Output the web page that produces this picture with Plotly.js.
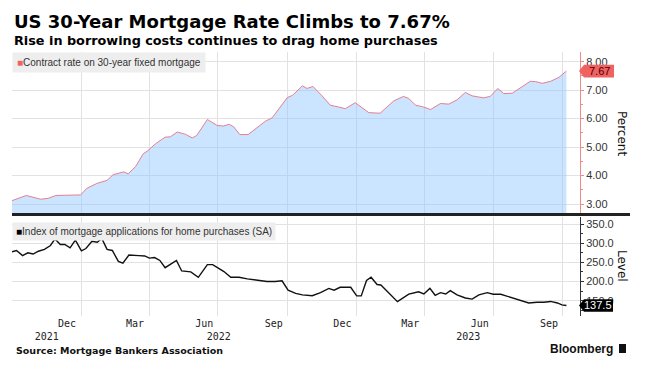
<!DOCTYPE html>
<html><head><meta charset="utf-8">
<script src="https://cdn.plot.ly/plotly-3.0.1.min.js"></script>
<style>html,body{margin:0;padding:0;background:#fff}</style>
</head><body><div id="chart" style="width:649px;height:369px"></div>
<script>
// ---- data ----
const rateDates = ['2021-10-01','2021-10-20','2021-11-08','2021-11-18','2021-11-28','2021-12-13','2021-12-31','2022-01-08','2022-01-22','2022-02-04','2022-02-12','2022-02-26','2022-03-04','2022-03-14','2022-03-24','2022-03-29','2022-04-09','2022-04-22','2022-04-29','2022-05-08','2022-05-19','2022-05-28','2022-06-03','2022-06-17','2022-06-30','2022-07-08','2022-07-16','2022-07-22','2022-07-30','2022-08-10','2022-08-22','2022-09-02','2022-09-11','2022-09-22','2022-10-01','2022-10-08','2022-10-21','2022-10-27','2022-11-04','2022-11-16','2022-11-27','2022-12-06','2022-12-17','2022-12-30','2023-01-17','2023-02-01','2023-02-19','2023-03-04','2023-03-11','2023-03-20','2023-03-29','2023-04-09','2023-04-22','2023-05-03','2023-05-14','2023-05-25','2023-06-03','2023-06-18','2023-06-27','2023-07-07','2023-07-15','2023-07-26','2023-08-06','2023-08-19','2023-08-26','2023-09-04','2023-09-15','2023-09-26','2023-10-06'];
const rateValues = [3.12,3.30,3.17,3.20,3.30,3.30,3.32,3.55,3.73,3.83,4.03,4.13,4.06,4.32,4.77,4.85,5.11,5.35,5.36,5.53,5.45,5.32,5.41,5.97,5.76,5.74,5.80,5.71,5.44,5.44,5.70,5.91,6.03,6.42,6.74,6.82,7.15,7.06,7.13,6.80,6.47,6.42,6.35,6.56,6.21,6.19,6.62,6.78,6.71,6.47,6.42,6.32,6.53,6.51,6.66,6.92,6.80,6.73,6.78,7.06,6.88,6.89,7.09,7.31,7.30,7.24,7.31,7.45,7.67];

const appDates = ['2021-10-01','2021-10-07','2021-10-15','2021-10-22','2021-10-29','2021-11-05','2021-11-13','2021-11-21','2021-11-27','2021-12-04','2021-12-10','2021-12-17','2021-12-24','2022-01-01','2022-01-07','2022-01-15','2022-01-22','2022-01-28','2022-02-04','2022-02-11','2022-02-19','2022-02-25','2022-03-05','2022-03-11','2022-03-18','2022-03-26','2022-04-01','2022-04-08','2022-04-15','2022-04-22','2022-04-29','2022-05-07','2022-05-14','2022-05-26','2022-06-05','2022-06-17','2022-06-24','2022-07-09','2022-07-18','2022-07-29','2022-08-09','2022-08-22','2022-09-04','2022-09-15','2022-09-24','2022-10-02','2022-10-12','2022-10-21','2022-11-03','2022-11-14','2022-11-25','2022-12-02','2022-12-10','2022-12-24','2023-01-01','2023-01-07','2023-01-14','2023-01-20','2023-01-28','2023-02-02','2023-02-15','2023-02-24','2023-03-11','2023-03-24','2023-03-31','2023-04-08','2023-04-15','2023-04-22','2023-04-29','2023-05-05','2023-05-14','2023-05-25','2023-06-03','2023-06-12','2023-06-23','2023-07-01','2023-07-11','2023-07-24','2023-08-06','2023-08-17','2023-08-28','2023-09-06','2023-09-15','2023-09-24','2023-09-30','2023-10-06'];
const appValues = [277.5,281,267.5,275,271.7,279,284,294,311,296.7,296.7,288,308,280,286,305,302.5,312.5,284,281,252.5,248,269,269,267.5,266.7,261,262.5,255,236,244,255,227.5,225,211,244,244,226,211,211,207,204,200,200,201.7,177.5,169,165,163,171,182,177.5,185,185,162.5,162.5,202.5,211,192,191,165,147.5,167,173,167.5,182,164,171,167.5,176,165,157,154,165,171,166.7,166.7,159,152.5,144,146,146,148,144,139,137.5];

const monthTickDates = ['2021-12-13','2022-03-13','2022-06-13','2022-09-13','2022-12-13','2023-03-13','2023-06-13','2023-09-13'];
const monthTickLabels = ['Dec','Mar','Jun','Sep','Dec','Mar','Jun','Sep'];
const gridDates = ['2022-01-01','2022-04-01','2022-07-01','2022-10-01','2023-01-01','2023-04-01','2023-07-01','2023-10-01'];
const yearLabels = ['2021','2022','2023'];
const xRange = ['2021-10-01','2023-10-24'];
const rateTicks = [3,4,5,6,7,8];
const appTicks = [150,200,250,300,350];

// ---- helpers ----
const H = 369, L = 12, PW = 568;
const py = p => 1 - p / H;
const pxX = p => (p - L) / PW;
function midDate(a, b) {
  const t = (new Date(a).getTime() + new Date(b).getTime()) / 2;
  return new Date(t).toISOString().slice(0, 10);
}
const yearMids = yearLabels.map(y => {
  const s = (y + '-01-01') > xRange[0] ? y + '-01-01' : xRange[0];
  const e = ((+y + 1) + '-01-01') < xRange[1] ? (+y + 1) + '-01-01' : xRange[1];
  return midDate(s, e);
});
const lastRate = rateValues[rateValues.length - 1];
const lastApp = appValues[appValues.length - 1];

const GRID = '#e2e2e2';
const RED = '#f08a8a';
const tickFontMono = {family: 'DejaVu Sans Mono, monospace', size: 10, color: '#222'};

const traces = [
  {type: 'scatter', mode: 'lines', x: rateDates, y: rateValues, xaxis: 'x', yaxis: 'y',
   line: {color: '#e67f8f', width: 1}, fill: 'tozeroy', fillcolor: 'rgba(140,195,255,0.45)', hoverinfo: 'skip'},
  {type: 'scatter', mode: 'lines', x: appDates, y: appValues, xaxis: 'x2', yaxis: 'y2',
   line: {color: '#111', width: 1.4}, hoverinfo: 'skip'},
  {type: 'scatter', mode: 'lines', x: [], y: [], xaxis: 'x3', yaxis: 'y2', hoverinfo: 'skip'}
];

const layout = {
  width: 649, height: 369,
  margin: {l: L, r: 649 - L - PW, t: 0, b: 0},
  paper_bgcolor: '#fff', plot_bgcolor: 'rgba(0,0,0,0)',
  showlegend: false,
  font: {family: 'Liberation Sans, Arial, sans-serif', size: 11, color: '#222'},
  xaxis: {domain: [0, 1], anchor: 'y', type: 'date', range: xRange, tickmode: 'array', tickvals: gridDates,
    showticklabels: false, ticks: '', showgrid: true, gridcolor: GRID, zeroline: false},
  yaxis: {domain: [py(214), py(52)], anchor: 'x', side: 'right', range: [2.65, 8.34],
    tickmode: 'array', tickvals: rateTicks, tickformat: '.2f',
    showline: true, linecolor: RED, linewidth: 1, ticks: 'outside', ticklen: 3, tickcolor: RED,
    minor: {dtick: 0.5, ticks: 'outside', ticklen: 2, tickcolor: RED, showgrid: false},
    showgrid: true, gridcolor: GRID, zeroline: false, tickfont: {size: 11, color: '#333'}},
  xaxis2: {domain: [0, 1], anchor: 'y2', type: 'date', range: xRange, tickmode: 'array',
    tickvals: monthTickDates, ticktext: monthTickLabels, showgrid: false, ticks: '', zeroline: false,
    tickfont: tickFontMono, ticklabelstandoff: 0,
    minor: {tickmode: 'array', tickvals: gridDates, showgrid: true, gridcolor: GRID, ticks: ''}},
  xaxis3: {overlaying: 'x2', anchor: 'y2', type: 'date', range: xRange, tickmode: 'array',
    tickvals: yearMids, ticktext: yearLabels, showgrid: false, ticks: '', zeroline: false,
    tickfont: tickFontMono, ticklabelstandoff: 13},
  yaxis2: {domain: [py(316), py(216.5)], anchor: 'x2', side: 'right', range: [110, 369.6],
    tickmode: 'array', tickvals: appTicks, tickformat: '.1f',
    showline: true, linecolor: '#333', linewidth: 1, ticks: 'outside', ticklen: 3, tickcolor: '#333',
    minor: {dtick: 25, ticks: 'outside', ticklen: 2, tickcolor: '#333', showgrid: false},
    showgrid: true, gridcolor: GRID, zeroline: false, tickfont: {size: 11, color: '#333'}},
  shapes: [
    {type: 'line', xref: 'paper', yref: 'paper', x0: 0, x1: pxX(630), y0: py(214.5), y1: py(214.5),
     line: {color: '#222', width: 3}},
    {type: 'path', xref: 'paper', yref: 'y', xsizemode: 'pixel', ysizemode: 'pixel', xanchor: 1, yanchor: lastRate,
     path: 'M-1,0 L4,6.3 L34,6.3 L34,-6.3 L4,-6.3 Z', fillcolor: '#f06262', line: {width: 0}},
    {type: 'path', xref: 'paper', yref: 'y2', xsizemode: 'pixel', ysizemode: 'pixel', xanchor: 1, yanchor: lastApp,
     path: 'M-1,0 L4,6.3 L33,6.3 L33,-6.3 L4,-6.3 Z', fillcolor: '#000', line: {width: 0}},
    {type: 'rect', xref: 'paper', yref: 'paper', x0: pxX(619), x1: pxX(626), y0: py(353), y1: py(344),
     fillcolor: '#111', line: {width: 0}}
  ],
  annotations: [
    {xref: 'paper', yref: 'paper', x: 0, y: py(22), xanchor: 'left', yanchor: 'middle', showarrow: false,
     text: 'US 30-Year Mortgage Rate Climbs to 7.67%',
     font: {family: 'DejaVu Sans, sans-serif', size: 18, color: '#000', weight: 'bold'}},
    {xref: 'paper', yref: 'paper', x: 0, y: py(40), xanchor: 'left', yanchor: 'middle', showarrow: false,
     text: 'Rise in borrowing costs continues to drag home purchases',
     font: {family: 'DejaVu Sans, sans-serif', size: 12.8, color: '#000', weight: 'bold'}},
    {xref: 'paper', yref: 'paper', x: 0, y: py(52), xanchor: 'left', yanchor: 'top', showarrow: false,
     text: '<span style="color:#f06262">■</span>Contract rate on 30-year fixed mortgage',
     bgcolor: '#eeeeee', borderpad: 4, font: {size: 10, color: '#333'}},
    {xref: 'paper', yref: 'paper', x: 0, y: py(221.5), xanchor: 'left', yanchor: 'top', showarrow: false,
     text: '<span style="color:#000">■</span>Index of mortgage applications for home purchases (SA)',
     bgcolor: '#eeeeee', borderpad: 3, font: {size: 10, color: '#333'}},
    {xref: 'paper', yref: 'y', x: 1, y: lastRate, xanchor: 'center', yanchor: 'middle', xshift: 19, showarrow: false,
     text: lastRate.toFixed(2), font: {size: 11, color: '#4a0000'}},
    {xref: 'paper', yref: 'y2', x: 1, y: lastApp, xanchor: 'center', yanchor: 'middle', xshift: 18, showarrow: false,
     text: lastApp.toFixed(1), font: {size: 11, color: '#fff'}},
    {xref: 'paper', yref: 'paper', x: pxX(622), y: py(133), xanchor: 'center', yanchor: 'middle', showarrow: false,
     text: 'Percent', textangle: 90, font: {family: 'DejaVu Sans, sans-serif', size: 12, color: '#111'}},
    {xref: 'paper', yref: 'paper', x: pxX(622), y: py(266), xanchor: 'center', yanchor: 'middle', showarrow: false,
     text: 'Level', textangle: 90, font: {family: 'DejaVu Sans, sans-serif', size: 12, color: '#111'}},
    {xref: 'paper', yref: 'paper', x: pxX(14), y: py(350), xanchor: 'left', yanchor: 'middle', showarrow: false,
     text: 'Source: Mortgage Bankers Association',
     font: {family: 'DejaVu Sans, sans-serif', size: 9.5, color: '#111', weight: 'bold'}},
    {xref: 'paper', yref: 'paper', x: pxX(615), y: py(349), xanchor: 'right', yanchor: 'middle', showarrow: false,
     text: 'Bloomberg', font: {family: 'Liberation Sans, Arial, sans-serif', size: 12, color: '#111', weight: 'bold'}}
  ]
};

Plotly.newPlot('chart', traces, layout, {staticPlot: true, displayModeBar: false});
</script></body></html>
